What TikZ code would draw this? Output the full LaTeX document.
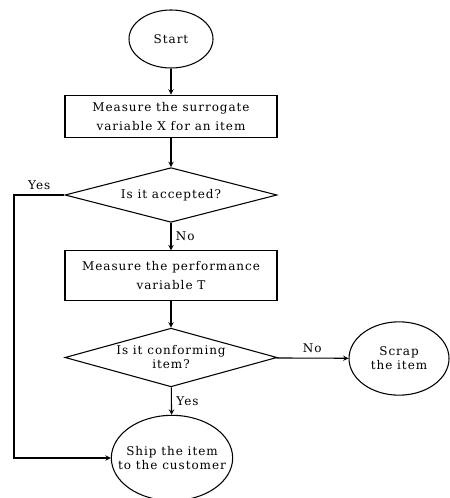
\documentclass[tikz,border=0pt]{standalone}
\usepackage{fontspec}
\setmainfont[LetterSpace=8]{DejaVu Serif}
\usetikzlibrary{shapes.geometric}

\begin{document}
\begin{tikzpicture}[x=0.75pt,y=-0.75pt,>=stealth,line width=0.8pt,
    every node/.style={font=\fontsize{9}{14}\selectfont},
    tight/.style={font=\fontsize{9}{10.5}\selectfont},
    term/.style={draw,ellipse,inner sep=0pt,align=center},
    proc/.style={draw,rectangle,minimum width=159pt,align=center},
    test/.style={draw,diamond,inner sep=0pt,aspect=3.8,minimum width=159pt,align=center}]
    \useasboundingbox (0,0) rectangle (449,498);
    \node (start) [term,minimum width=63pt,minimum height=43.5pt] at (171,39) {Start};
    \node (surr) [proc,minimum height=32pt] at (171,116.5) {Measure the surrogate\\variable X for an item};
    \node (acc) [test,minimum height=41pt] at (171,195) {Is it accepted?};
    \node (perf) [proc,minimum height=37pt] at (171,275.5) {Measure the performance\\variable T};
    \node (conf) [test,tight,minimum height=44pt] at (171,357.5) {Is it conforming\\item?};
    \node (scrap) [term,tight,minimum width=75pt,minimum height=55pt] at (399,358.5) {Scrap\\the item};
    \node (ship) [term,tight,inner xsep=-14pt,minimum width=91pt,minimum height=64pt] at (172,458) {Ship the item\\to the customer};
    \coordinate (c1) at (14,195);
    \draw[->] (start) -- (surr);
    \draw[->] (surr) -- (acc);
    \draw[->] (acc) -- node[right] {No} (perf);
    \draw[->] (perf) -- (conf);
    \draw[->] (conf) -- node[above] {No} (scrap);
    \draw[->] (conf) -- node[right] {Yes} (ship);
    \draw[->] (acc.west) -- node[above] {Yes} (c1) |- (ship);
\end{tikzpicture}
\end{document}
